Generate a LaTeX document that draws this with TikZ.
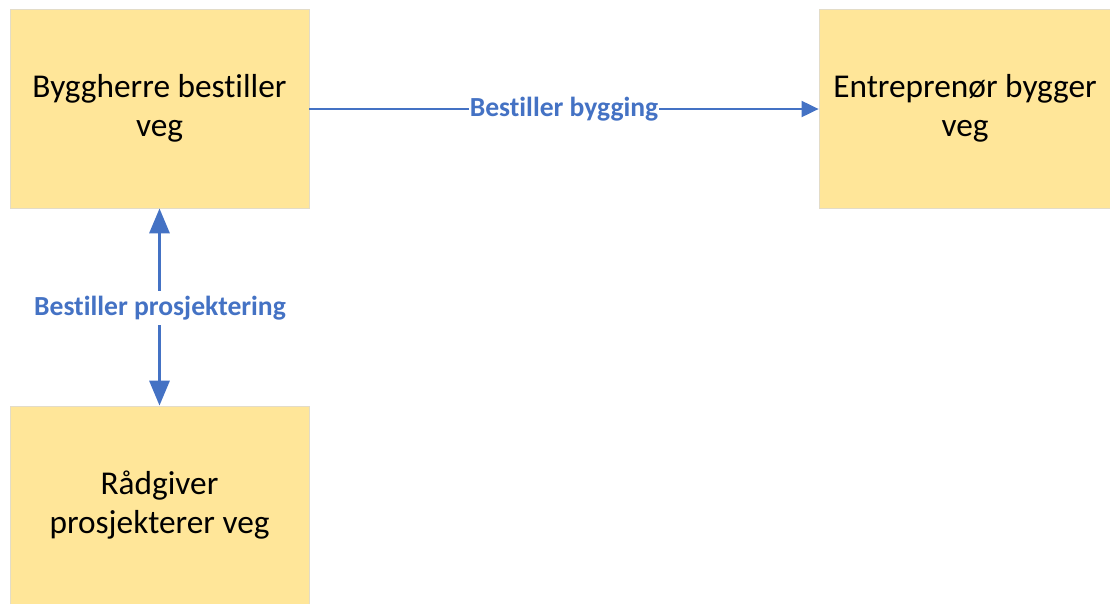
\documentclass[tikz,border=0pt]{standalone}
\usepackage{fontspec}
\setmainfont{Carlito}[Ligatures=NoCommon]
\usetikzlibrary{arrows.meta}
\definecolor{boxfill}{HTML}{FFE699}
\definecolor{boxedge}{HTML}{E3DCC8}
\definecolor{linkblue}{HTML}{4472C4}
\tikzset{
  rolebox/.style={draw=boxedge, line width=0.8pt, fill=boxfill, inner sep=0pt,
    align=center, font=\fontsize{33.3}{39}\selectfont, text=black},
  link/.style={draw=linkblue, line width=3.2pt, -{Triangle[length=25pt,width=20pt]}},
  thinlink/.style={draw=linkblue, line width=2pt, -{Triangle[length=17pt,width=16pt]}},
  linklabel/.style={fill=white, text=linkblue, inner sep=3pt,
    font=\fontsize{27.6}{32}\selectfont\bfseries},
}
\begin{document}
\begin{tikzpicture}[x=1pt,y=1pt]
  \useasboundingbox (0,0) rectangle (1110,-603);
  \node[rolebox, minimum width=299pt, minimum height=199pt] (client) at (159.5,-108.5)
    {Byggherre bestiller\\veg};
  \node[rolebox, minimum width=292pt, minimum height=199pt] (builder) at (965,-108.5)
    {Entreprenør bygger\\veg};
  \node[rolebox, minimum width=299pt, minimum height=198pt] (advisor) at (159.5,-505)
    {Rådgiver\\prosjekterer veg};
  % ordering of construction
  \draw[thinlink] (client.east |- 0,-109) -- (builder.west |- 0,-109)
    node[linklabel, pos=0.5, inner sep=1pt] (buildlbl) {Bestiller bygging};
  % ordering of design, arrows both ways around the label
  \node[linklabel, inner ysep=5pt] (designlbl) at (160,-308) {Bestiller prosjektering};
  \draw[link] (designlbl.north -| client.south) -- (client.south);
  \draw[link] (designlbl.south -| advisor.north) -- (advisor.north);
\end{tikzpicture}
\end{document}
